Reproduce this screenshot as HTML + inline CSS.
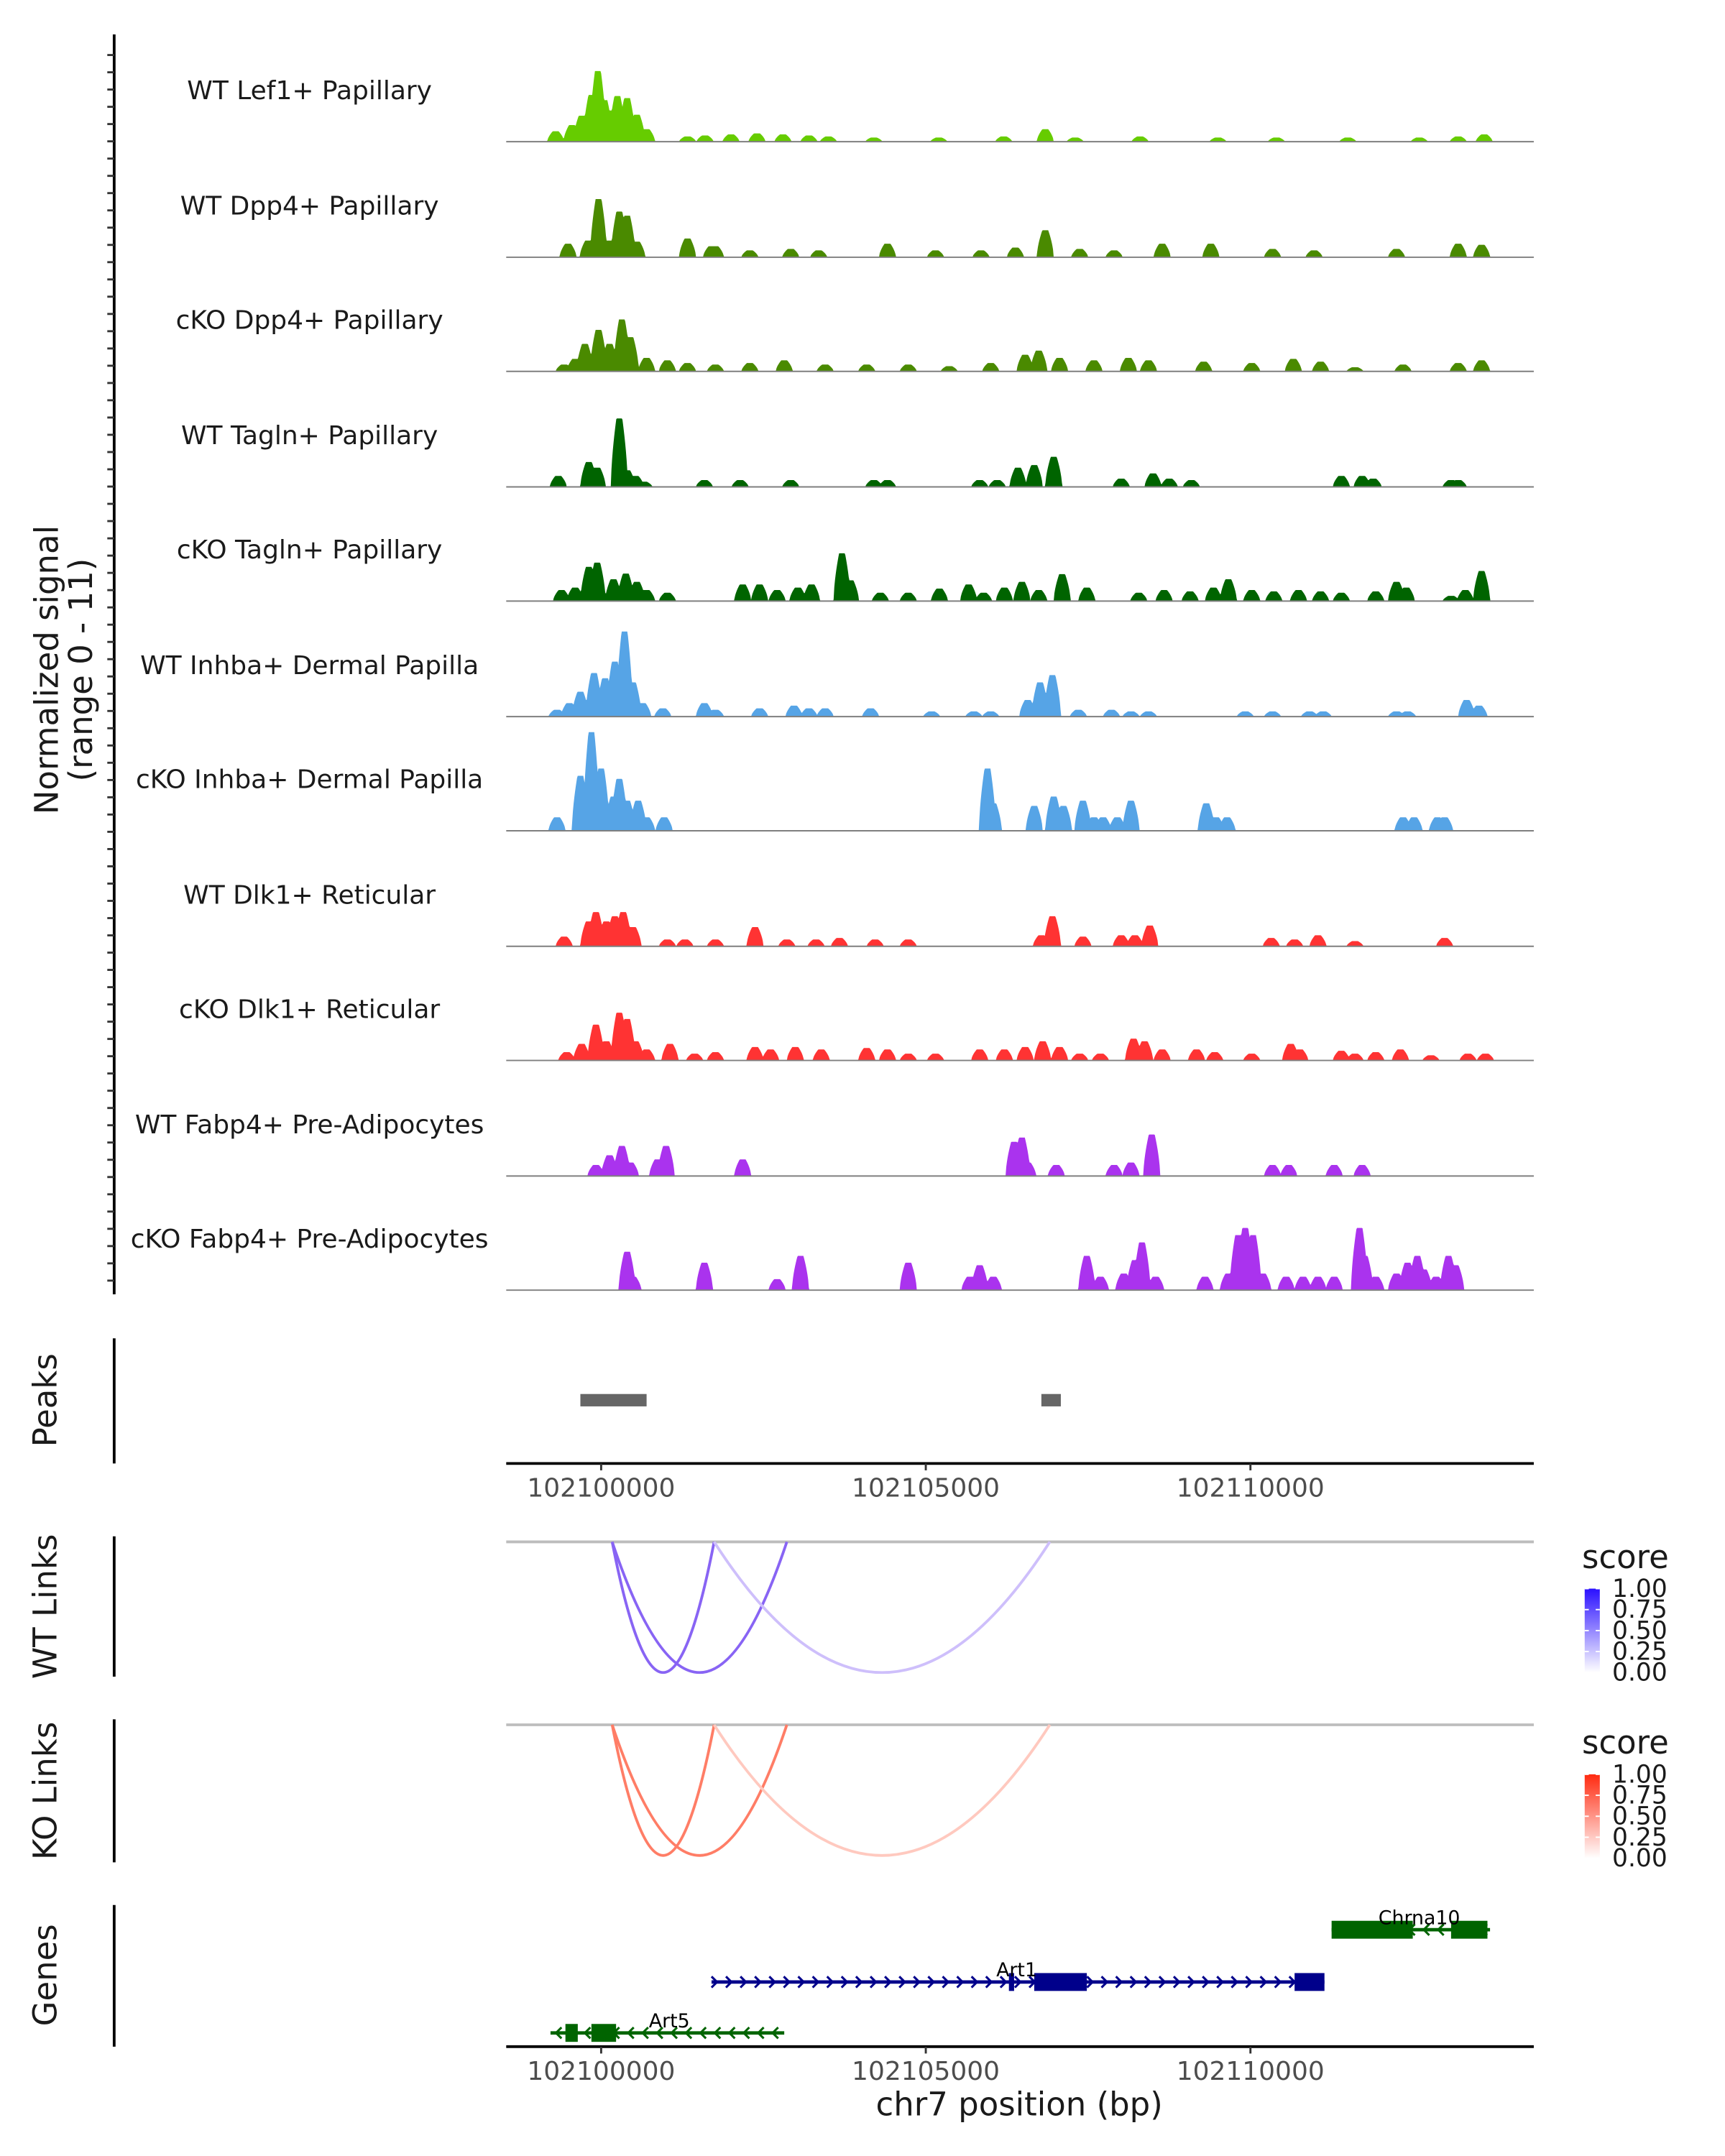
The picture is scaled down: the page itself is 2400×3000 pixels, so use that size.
<!DOCTYPE html>
<html><head><meta charset="utf-8"><style>
html,body{margin:0;padding:0;background:#fff}
svg{display:block;font-family:"DejaVu Sans","Liberation Sans",sans-serif}
</style></head><body>
<svg id="chart" width="2400" height="3000" viewBox="0 0 1254 1567.5" xmlns="http://www.w3.org/2000/svg">
<rect x="0" y="0" width="1254" height="1567.5" fill="#fff"/>
<g id="tracks"></g>
<g id="peaks"></g>
<g id="links"></g>
<g id="genes"></g>
<g id="axes"></g>
</svg>
<script>
// ---------- data ----------
const trackNames = ["WT Lef1+ Papillary","WT Dpp4+ Papillary","cKO Dpp4+ Papillary","WT Tagln+ Papillary","cKO Tagln+ Papillary","WT Inhba+ Dermal Papilla","cKO Inhba+ Dermal Papilla","WT Dlk1+ Reticular","cKO Dlk1+ Reticular","WT Fabp4+ Pre-Adipocytes","cKO Fabp4+ Pre-Adipocytes"];
const trackColors = ["#66cc00","#4a8a00","#4a8a00","#006400","#006400","#56a4e6","#56a4e6","#ff3333","#ff3333","#aa33ee","#aa33ee"];
// peaks: [position in kb from 102100000, signal value]
const sigLef1 = [[-0.7,1],[-0.45,1.6],[-0.3,2.5],[-0.15,4.5],[-0.05,6.8],[0.05,4],[0.15,3],[0.25,4.4],[0.4,4.2],[0.55,2.6],[0.7,1.2],[1.33,0.5],[1.6,0.6],[2.0,0.7],[2.4,0.8],[2.8,0.7],[3.2,0.6],[3.5,0.5],[4.2,0.4],[5.2,0.4],[6.2,0.5],[6.84,1.2],[7.3,0.4],[8.3,0.5],[9.5,0.4],[10.4,0.4],[11.5,0.4],[12.6,0.4],[13.2,0.5],[13.6,0.7]];
const sigWtDpp4 = [[-0.51,1.3],[-0.2,1.6],[-0.04,5.6],[0.13,1.6],[0.28,4.4],[0.4,4],[0.55,1.5],[1.33,1.8],[1.70,1.06],[1.76,1.06],[2.29,0.66],[2.92,0.8],[3.35,0.66],[4.41,1.3],[5.15,0.66],[5.85,0.66],[6.38,0.93],[6.84,2.6],[7.37,0.8],[7.90,0.66],[8.64,1.3],[9.39,1.3],[10.34,0.8],[10.98,0.66],[12.25,0.8],[13.2,1.3],[13.56,1.2]];
const sigKoDpp4 = [[-0.57,0.66],[-0.4,1.2],[-0.25,2.65],[-0.04,4],[0.13,2.65],[0.32,5],[0.45,3.3],[0.70,1.3],[1.02,1.06],[1.33,0.8],[1.76,0.66],[2.29,0.8],[2.82,1.06],[3.45,0.66],[4.09,0.66],[4.73,0.66],[5.36,0.5],[6.0,0.8],[6.53,1.6],[6.74,2],[7.06,1.3],[7.59,1.06],[8.12,1.3],[8.43,1.06],[9.28,0.93],[10.02,0.8],[10.66,1.2],[11.08,0.93],[11.61,0.4],[12.35,0.66],[13.2,0.8],[13.56,1.06]];
const sigWtTagln = [[-0.66,1.06],[-0.19,2.4],[-0.06,1.85],[0.28,6.6],[0.40,1.6],[0.53,1.06],[0.66,0.5],[1.59,0.66],[2.14,0.66],[2.92,0.66],[4.20,0.66],[4.41,0.66],[5.83,0.66],[6.10,0.66],[6.42,1.85],[6.67,2.1],[6.97,2.9],[8.01,0.8],[8.50,1.3],[8.75,0.8],[9.09,0.66],[11.40,1.06],[11.72,1.06],[11.89,0.8],[13.09,0.66],[13.20,0.66]];
const sigKoTagln = [[-0.61,1.06],[-0.40,1.3],[-0.19,3.3],[-0.06,3.7],[0.19,2.1],[0.38,2.65],[0.55,1.85],[0.70,1.06],[1.02,0.8],[2.18,1.6],[2.44,1.6],[2.71,1.06],[3.03,1.3],[3.24,1.6],[3.71,4.6],[3.84,2],[4.30,0.8],[4.73,0.8],[5.21,1.2],[5.66,1.6],[5.89,0.8],[6.21,1.3],[6.48,1.85],[6.74,1.06],[7.10,2.6],[7.48,1.3],[8.28,0.8],[8.67,1.06],[9.07,0.93],[9.43,1.3],[9.66,2.1],[10.02,1.06],[10.36,0.93],[10.74,1.06],[11.08,0.93],[11.40,0.8],[11.93,0.93],[12.25,1.85],[12.40,1.3],[13.09,0.5],[13.31,1.06],[13.56,2.9]];
const sigWtInhba = [[-0.68,0.66],[-0.49,1.3],[-0.32,2.4],[-0.11,4.2],[0.06,3.7],[0.21,5.3],[0.36,8.2],[0.49,3.3],[0.64,1.3],[0.95,0.8],[1.59,1.3],[1.76,0.66],[2.44,0.8],[2.97,1.06],[3.20,0.8],[3.45,0.8],[4.15,0.8],[5.09,0.5],[5.74,0.5],[6.0,0.5],[6.57,1.6],[6.76,3.3],[6.95,4],[7.35,0.66],[7.86,0.66],[8.16,0.5],[8.43,0.5],[9.92,0.5],[10.34,0.5],[10.91,0.5],[11.12,0.5],[12.25,0.5],[12.42,0.5],[13.33,1.6],[13.52,1.06]];
const sigKoInhba = [[-0.68,1.3],[-0.32,5.3],[-0.15,9.5],[0.0,6],[0.19,3.3],[0.28,5],[0.40,2.9],[0.57,2.9],[0.70,1.3],[0.97,1.3],[5.95,6],[6.04,2.65],[6.67,2.4],[6.97,3.3],[7.12,2.4],[7.42,2.9],[7.59,1.3],[7.73,1.3],[7.95,1.3],[8.16,2.9],[9.32,2.65],[9.47,1.3],[9.64,1.3],[12.35,1.3],[12.52,1.3],[12.88,1.3],[12.99,1.3]];
const sigWtDlk1 = [[-0.57,0.93],[-0.19,2.4],[-0.08,3.3],[0.08,2.4],[0.21,2.9],[0.34,3.3],[0.49,1.85],[1.02,0.66],[1.29,0.66],[1.76,0.66],[2.37,1.85],[2.86,0.66],[3.31,0.66],[3.67,0.8],[4.22,0.66],[4.73,0.66],[6.78,1.06],[6.95,2.9],[7.42,0.93],[8.01,1.06],[8.22,1.06],[8.45,2],[10.32,0.8],[10.68,0.66],[11.04,1.06],[11.61,0.5],[12.99,0.8]];
const sigKoDlk1 = [[-0.53,0.8],[-0.30,1.6],[-0.08,3.45],[0.08,1.85],[0.28,4.6],[0.40,4],[0.53,1.85],[0.70,1.06],[1.06,1.6],[1.44,0.66],[1.76,0.8],[2.37,1.3],[2.61,1.06],[2.99,1.3],[3.39,1.06],[4.09,1.2],[4.41,1.06],[4.73,0.66],[5.15,0.66],[5.83,1.06],[6.21,1.06],[6.53,1.3],[6.80,1.85],[7.06,1.3],[7.37,0.66],[7.69,0.66],[8.20,2.1],[8.37,1.85],[8.64,1.06],[9.17,1.06],[9.45,0.8],[10.02,0.66],[10.62,1.6],[10.76,1.06],[11.40,0.93],[11.61,0.66],[11.93,0.8],[12.31,1.06],[12.78,0.5],[13.35,0.66],[13.62,0.66]];
const sigWtFabp4 = [[-0.08,1.06],[0.13,2],[0.32,2.9],[0.45,1.3],[0.87,1.6],[1.0,2.9],[2.18,1.6],[6.36,3.3],[6.48,3.7],[6.57,1.3],[7.01,1.06],[7.90,1.06],[8.16,1.3],[8.48,4],[10.34,1.06],[10.59,1.06],[11.29,1.06],[11.72,1.06]];
const sigKoFabp4 = [[0.40,3.7],[0.49,1.3],[1.59,2.65],[2.71,1.06],[3.07,3.3],[4.73,2.65],[5.68,1.3],[5.83,2.4],[6.04,1.3],[7.48,3.3],[7.69,1.3],[8.05,1.6],[8.22,2.9],[8.33,4.6],[8.54,1.3],[9.30,1.3],[9.66,1.6],[9.81,5.3],[9.92,6],[10.04,5.3],[10.19,1.6],[10.55,1.3],[10.81,1.3],[11.04,1.3],[11.29,1.3],[11.68,6],[11.76,3.3],[11.93,1.3],[12.25,1.6],[12.42,2.65],[12.57,3.3],[12.67,2],[12.86,1.3],[13.05,3.3],[13.16,2.4]];
const trackSignals = [sigLef1,sigWtDpp4,sigKoDpp4,sigWtTagln,sigKoTagln,sigWtInhba,sigKoInhba,sigWtDlk1,sigKoDlk1,sigWtFabp4,sigKoFabp4];
const peakRegions = [[-0.32,0.70],[6.78,7.08]];
const wtLinks = [[0.17,2.86,0.72],[0.17,1.74,0.72],[1.74,6.91,0.3]];
const koLinks = [[0.17,2.86,0.72],[0.17,1.74,0.72],[1.74,6.91,0.3]];
const genes = [
  {name:"Chrna10",start:11.25,end:13.69,strand:-1,row:0,color:"#006400",exons:[[11.25,12.5],[13.09,13.65]],label:12.6},
  {name:"Art1",start:1.70,end:11.14,strand:1,row:1,color:"#00008b",exons:[[6.28,6.36],[6.67,7.48],[10.68,11.14]],label:6.4},
  {name:"Art5",start:-0.78,end:2.82,strand:-1,row:2,color:"#006400",exons:[[-0.55,-0.36],[-0.15,0.23]],label:1.05}
];
const xTicks = [0,5,10];
const xTickLabels = ["102100000","102105000","102110000"];
const scoreTicks = [1.00,0.75,0.50,0.25,0.00];

// ---------- scales ----------
const X0=368, X1=1115, KB0=-1.462, KB1=14.364;
const xs = kb => X0 + (kb-KB0)/(KB1-KB0)*(X1-X0);
const baselines = [103,187,270,354,437,521,604,688,771,855,938];
const trackH = 83, YMAX = 11;
const ys = v => v/YMAX*trackH;
const NS="http://www.w3.org/2000/svg";
function mk(tag, attrs, parent){const e=document.createElementNS(NS,tag);for(const k in attrs)e.setAttribute(k,attrs[k]);parent.appendChild(e);return e;}

// ---------- tracks ----------
const tg=document.getElementById('tracks');
trackNames.forEach((nm,i)=>{
  const b=baselines[i];
  const g=mk('g',{},tg);
  
  
  const t=mk('text',{x:225,y:b-31,'text-anchor':'middle','font-size':18.8,fill:'#1a1a1a'},g);
  t.textContent=nm;
  
  
  const sig=trackSignals[i];
  const hw=0.13;
  let d='M'+X0+','+b;
  for(let px=X0;px<=X1;px+=0.5){
    const kb=KB0+(px-X0)/(X1-X0)*(KB1-KB0);
    let v=0;
    sig.forEach(p=>{const dd=Math.abs(kb-p[0]);if(dd<hw){const f=dd<hw*0.35?1:Math.pow(1-(dd-hw*0.35)/(hw*0.65),0.6);v=Math.max(v,p[1]*f);}});
    d+=' L'+px+','+(b-ys(v)).toFixed(2);
  }
  d+=' L'+X1+','+b+' Z';
  const a=mk('path',{d:d,fill:trackColors[i],stroke:'none'},g);
  
  
  const l=mk('line',{x1:X0,x2:X1,y1:b,y2:b,stroke:'#7f7f7f','stroke-width':1},g);
  
  
});

// ---------- peaks ----------
const pg=document.getElementById('peaks');
peakRegions.forEach(p=>{
  const r=mk('rect',{x:xs(p[0]),y:1013.5,width:xs(p[1])-xs(p[0]),height:9,fill:'#666'},pg);
  
  
});

// ---------- links ----------
const lg=document.getElementById('links');
function mix(a,b,t){const pa=[1,3,5].map(i=>parseInt(a.substr(i,2),16)),pb=[1,3,5].map(i=>parseInt(b.substr(i,2),16));return 'rgb('+pa.map((v,i)=>Math.round(v+(pb[i]-v)*t)).join(',')+')';}
function drawLinks(data, top, lowC, highC){
  const gl=mk('line',{x1:X0,x2:X1,y1:top,y2:top,stroke:'#bdbdbd','stroke-width':2},lg);
  
  
  data.forEach(k=>{
    const x1=xs(k[0]),x2=xs(k[1]),dep=95*2;
    const c=mix(lowC,highC,k[2]);
    const p=mk('path',{d:`M${x1},${top} Q${(x1+x2)/2},${top+dep} ${x2},${top}`,fill:'none',stroke:c,'stroke-width':2},lg);
    
    
  });
}
drawLinks(wtLinks,1121,'#ffffff','#5a28f0');
drawLinks(koLinks,1254,'#ffffff','#ff4a2a');

function legend(y0, id, col){
  const g=mk('g',{},lg);
  
  
  const t=mk('text',{x:1150,y:y0,'font-size':23.5,fill:'#1a1a1a'},g);t.textContent='score';
  const defs=mk('defs',{},g);
  const gr=mk('linearGradient',{id:id,x1:0,y1:0,x2:0,y2:1},defs);
  mk('stop',{offset:0,'stop-color':col},gr);mk('stop',{offset:1,'stop-color':'#ffffff'},gr);
  mk('rect',{x:1152,y:y0+15,width:11,height:61,fill:'url(#'+id+')'},g);
  scoreTicks.forEach((s,i)=>{
    const yy=y0+15+(1-s)*61;
    const tx=mk('text',{x:1172,y:yy+6,'font-size':18,fill:'#1a1a1a'},g);tx.textContent=s.toFixed(2);
    mk('line',{x1:1152,x2:1155,y1:yy,y2:yy,stroke:'#fff','stroke-width':1},g);
    mk('line',{x1:1160,x2:1163,y1:yy,y2:yy,stroke:'#fff','stroke-width':1},g);
  });
}
legend(1140,'gWT','#2a10ff');
legend(1275,'gKO','#ff2a10');

// ---------- genes ----------
const gg=document.getElementById('genes');
const rowY=[1403,1441,1478];
genes.forEach(gn=>{
  const y=rowY[gn.row];
  const g=mk('g',{},gg);
  
  
  mk('line',{x1:xs(gn.start),x2:xs(gn.end),y1:y,y2:y,stroke:gn.color,'stroke-width':2.5},g);
  for(let px=xs(gn.start)+4;px<xs(gn.end)-2;px+=10.5){
    const dx=gn.strand*4;
    mk('path',{d:`M${px-dx},${y-4} L${px},${y} L${px-dx},${y+4}`,fill:'none',stroke:gn.color,'stroke-width':1.6},g);
  }
  gn.exons.forEach(e=>{mk('rect',{x:xs(e[0]),y:y-6.5,width:xs(e[1])-xs(e[0]),height:13,fill:gn.color},g);});
  const t=mk('text',{x:xs(gn.label),y:y-4,'text-anchor':'middle','font-size':14,fill:'#000'},g);t.textContent=gn.name;
});

// ---------- axes ----------
const ax=document.getElementById('axes');
function vline(x,y1,y2,name){const l=mk('line',{x1:x,x2:x,y1:y1,y2:y2,stroke:'#000','stroke-width':2},ax);}
vline(83,25,941,'signal-y-axis');
for(let y=40;y<=940;y+=12.55){mk('line',{x1:78,x2:83,y1:y,y2:y,stroke:'#333','stroke-width':1.5},ax);}
vline(83,973,1064,'peaks-axis');
vline(83,1117,1219,'wt-links-axis');
vline(83,1250,1354,'ko-links-axis');
vline(83,1385,1488,'genes-axis');
function rotText(x,y,lines,name){
  const t=mk('text',{x:0,y:0,transform:`translate(${x},${y}) rotate(-90)`,'text-anchor':'middle','font-size':23.5,fill:'#1a1a1a'},ax);
  
  
  lines.forEach((s,i)=>{const ts=mk('tspan',{x:0,dy:i?25:0},t);ts.textContent=s;});
}
rotText(42,487,['Normalized signal','(range 0 - 11)'],'y-axis-title');
rotText(41,1018,['Peaks'],'peaks-title');
rotText(41,1168,['WT Links'],'wt-links-title');
rotText(41,1302,['KO Links'],'ko-links-title');
rotText(41,1436,['Genes'],'genes-title');
function xaxis(y,name){
  const l=mk('line',{x1:X0,x2:X1,y1:y,y2:y,stroke:'#000','stroke-width':2},ax);
  
  
  xTicks.forEach((k,i)=>{
    mk('line',{x1:xs(k),x2:xs(k),y1:y,y2:y+5,stroke:'#333','stroke-width':1.5},ax);
    const t=mk('text',{x:xs(k),y:y+24,'text-anchor':'middle','font-size':18.8,fill:'#4d4d4d'},ax);t.textContent=xTickLabels[i];
  });
}
xaxis(1064,'peaks-x-axis');
xaxis(1488,'genes-x-axis');
const xt=mk('text',{x:741,y:1538,'text-anchor':'middle','font-size':23.5,fill:'#1a1a1a'},ax);
xt.textContent='chr7 position (bp)';


</script>
</body></html>
